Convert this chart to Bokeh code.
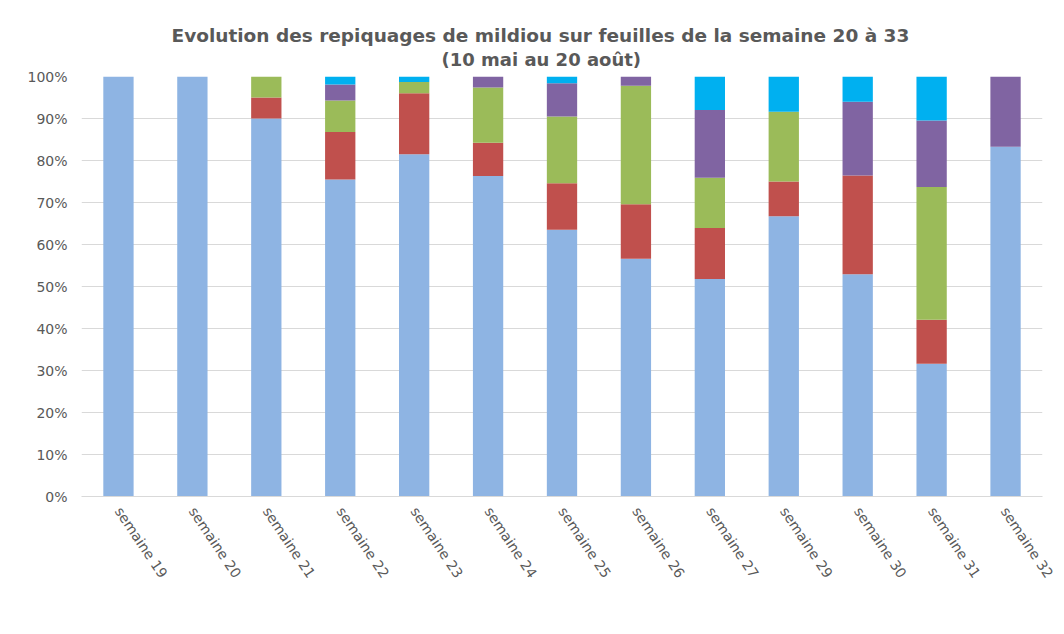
from bokeh.plotting import figure
from bokeh.models import (ColumnDataSource, Legend, LegendItem, Title,
                          PrintfTickFormatter, FixedTicker, Range1d)
from bokeh.embed import file_html
from bokeh.resources import INLINE

weeks = ["semaine 19", "semaine 20", "semaine 21", "semaine 22", "semaine 23",
         "semaine 24", "semaine 25", "semaine 26", "semaine 27", "semaine 29",
         "semaine 30", "semaine 31", "semaine 32"]
absence = [100, 100, 90, 75.5, 81.5, 76.3, 63.5, 56.6, 51.8, 66.7, 52.9, 31.6, 83.3]
moins_100 = [0, 0, 5, 11.3, 14.5, 7.9, 11.1, 13.0, 12.1, 8.3, 23.5, 10.5, 0]
moins_10 = [0, 0, 5, 7.5, 2.7, 13.2, 15.9, 28.2, 12.0, 16.6, 0, 31.6, 0]
un_a_dix = [0, 0, 0, 3.8, 0, 2.6, 7.9, 2.2, 16.1, 0, 17.6, 15.8, 16.7]
plus_10 = [0, 0, 0, 1.9, 1.3, 0, 1.6, 0, 8.0, 8.4, 6.0, 10.5, 0]

series = ["absence", "moins_100", "moins_10", "un_a_dix", "plus_10"]
labels = ["Absence", "Moins de 1 tache/100 ceps", "Moins de 1 tache/10 ceps",
          "1 à 10 taches/cep", "Plus de 10 taches/cep"]
colors = ["#8EB4E3", "#C0504D", "#9BBB59", "#8064A2", "#00B0F0"]

source = ColumnDataSource(dict(weeks=weeks, absence=absence, moins_100=moins_100,
                               moins_10=moins_10, un_a_dix=un_a_dix, plus_10=plus_10))

FONT = "DejaVu Sans"
GRAY = "#595959"

p = figure(x_range=weeks, y_range=Range1d(0, 100),
           frame_width=961, frame_height=420,
           output_backend="svg", toolbar_location=None,
           min_border_left=81, min_border_right=14,
           min_border_top=76, min_border_bottom=0)
p.x_range.range_padding = 0

rs = p.vbar_stack(series, x="weeks", width=0.41, color=colors, source=source,
                  line_width=0)

p.add_layout(Title(text="(10 mai au 20 août)", align="left", offset=360,
                   text_font=FONT, text_font_size="18px", text_font_style="bold",
                   text_color=GRAY, standoff=13), "above")
p.add_layout(Title(text="Evolution des repiquages de mildiou sur feuilles de la semaine 20 à 33",
                   align="left", offset=90, text_font=FONT, text_font_size="18.5px",
                   text_font_style="bold", text_color=GRAY, standoff=-10), "above")

p.yaxis.ticker = FixedTicker(ticks=[0, 10, 20, 30, 40, 50, 60, 70, 80, 90, 100])
p.yaxis.formatter = PrintfTickFormatter(format="%d%%")
p.yaxis.axis_line_color = None
p.yaxis.major_tick_line_color = None
p.yaxis.minor_tick_line_color = None
p.yaxis.major_tick_out = 0
p.yaxis.major_label_text_font = FONT
p.yaxis.major_label_text_font_size = "14px"
p.yaxis.major_label_text_color = GRAY
p.yaxis.major_label_standoff = 14

p.xaxis.axis_line_color = "#d9d9d9"
p.xaxis.major_tick_line_color = None
p.xaxis.minor_tick_line_color = None
p.xaxis.major_tick_out = 0
p.xaxis.major_tick_in = 0
p.xaxis.minor_tick_out = 0
p.xaxis.major_label_orientation = -0.98
p.xaxis.major_label_text_font = FONT
p.xaxis.major_label_text_font_size = "14px"
p.xaxis.major_label_text_color = GRAY
p.xaxis.major_label_standoff = 12

p.xgrid.grid_line_color = None
p.ygrid.grid_line_color = "#d9d9d9"
p.outline_line_color = None

legend = Legend(items=[LegendItem(label=l, renderers=[r]) for l, r in zip(labels, rs)],
                orientation="horizontal", location="center",
                label_text_font=FONT, label_text_font_size="15px",
                label_text_color=GRAY, glyph_width=8, glyph_height=8,
                spacing=28, border_line_color=None, background_fill_alpha=0,
                padding=0, margin=0, label_standoff=7)
p.add_layout(legend, "below")

open("out.html", "w").write(file_html(p, INLINE))
